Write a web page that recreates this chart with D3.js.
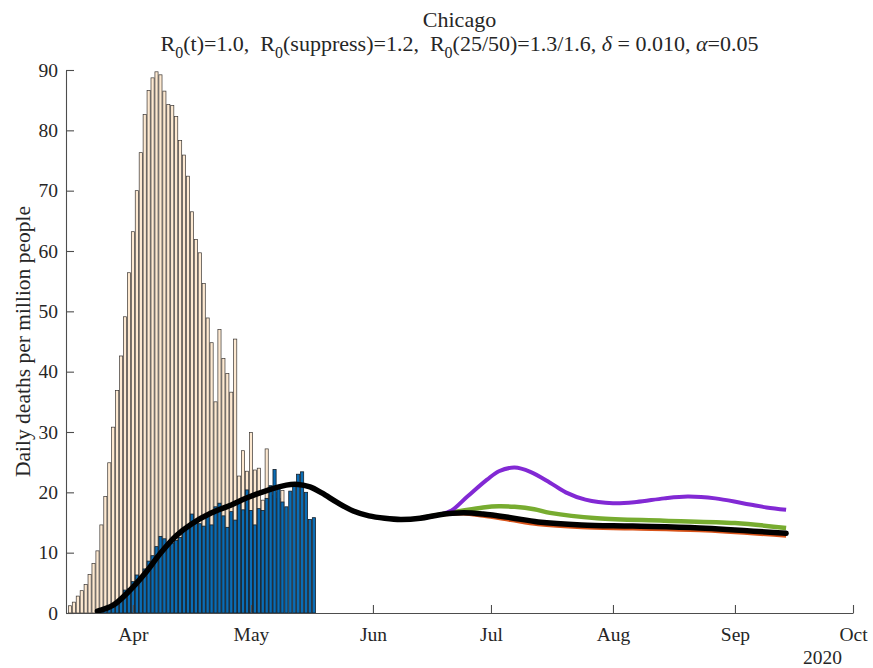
<!DOCTYPE html>
<html><head><meta charset="utf-8">
<script src="https://cdn.jsdelivr.net/npm/d3@7"></script>
<style>
body{margin:0;background:#fff}
text{font-family:"Liberation Serif","Times New Roman",serif;fill:#262626}
</style>
</head><body>
<svg id="c" width="873" height="668"></svg>
<script>
// ---------- data ----------
const xDomain = ["2020-03-15", "2020-10-01"];
const yTicks = [0, 10, 20, 30, 40, 50, 60, 70, 80, 90];
const monthTicks = ["2020-04-01","2020-05-01","2020-06-01","2020-07-01","2020-08-01","2020-09-01","2020-10-01"];
const monthLabels = ["Apr","May","Jun","Jul","Aug","Sep","Oct"];
const yearLabel = "2020";

// beige bars: one value per day starting at beigeStart
const beigeStart = "2020-03-16";
const beigeValues = [
  1.2, 1.8, 2.8, 3.7, 4.7, 6.4, 8.2, 10.3, 14.6, 19.3, 24.9, 30.8, 36.9, 42.6, 49.1, 56.4,
  63.2, 70.0, 76.3, 82.6, 86.6, 88.7, 89.7, 89.2, 86.5, 84.3, 84.1, 82.3, 78.3, 75.9, 72.4,
  66.5, 61.9, 59.7, 54.6, 48.9, 44.8, 35.0, 47.0, 42.2, 39.7, 36.6, 45.4, 22.7, 26.9, 23.5,
  29.9, 23.7, 24.0, 18.7, 27.2, 19.5, 20.0, 19.0, 20.3
];

// blue bars: one value per day starting at blueStart
const blueStart = "2020-03-23";
const blueValues = [
  0.5, 0.7, 0.9, 1.1, 1.4, 1.7, 2.3, 3.8, 4.0,
  5.2, 6.3, 5.9, 7.3, 8.6, 9.5, 11.0, 12.7, 12.3, 11.7, 11.6, 12.0, 12.5, 13.8, 14.2,
  16.4, 15.4, 14.8, 14.4, 16.1, 14.6, 17.6, 18.2, 16.1, 14.2, 16.8, 15.4, 18.2, 17.1, 20.4,
  17.0, 14.6, 17.3, 17.0, 19.0, 21.1, 23.8, 20.8, 18.4, 17.6, 20.2, 21.3, 23.0, 23.4, 20.0,
  15.5, 15.8
];

// model curves
const blackDates = ["2020-03-23","2020-03-27","2020-03-31","2020-04-04","2020-04-08","2020-04-12","2020-04-16",
  "2020-04-21","2020-04-26","2020-04-30","2020-05-05","2020-05-10","2020-05-13","2020-05-16","2020-05-19",
  "2020-05-23","2020-05-27","2020-05-31","2020-06-04","2020-06-08","2020-06-13","2020-06-18","2020-06-24",
  "2020-06-29","2020-07-06","2020-07-13","2020-07-24","2020-08-06","2020-08-23","2020-09-14"];
const blackValues = [0.3, 1.3, 3.6, 6.5, 9.9, 12.8, 14.8,
  16.6, 17.9, 19.1, 20.3, 21.2, 21.3, 20.9, 19.9,
  18.3, 16.9, 16.1, 15.7, 15.5, 15.7, 16.3, 16.6,
  16.4, 15.8, 15.1, 14.6, 14.4, 14.1, 13.2];

const orangeDates = ["2020-06-18","2020-06-24","2020-06-29","2020-07-06","2020-07-13","2020-07-24","2020-08-06","2020-08-23","2020-09-14"];
const orangeValues = [16.3, 16.5, 16.1, 15.4, 14.7, 14.2, 14.0, 13.7, 12.8];

const greenDates = ["2020-06-13","2020-06-18","2020-06-24","2020-06-29","2020-07-03","2020-07-07","2020-07-12","2020-07-16","2020-07-28","2020-08-14","2020-09-01","2020-09-14"];
const greenValues = [15.7, 16.3, 17.0, 17.5, 17.7, 17.6, 17.2, 16.6, 15.7, 15.3, 14.9, 14.1];

const purpleDates = ["2020-06-13","2020-06-18","2020-06-21","2020-06-25","2020-06-30","2020-07-03","2020-07-07","2020-07-11","2020-07-16","2020-07-20","2020-07-25","2020-08-01","2020-08-07","2020-08-14","2020-08-20","2020-08-27","2020-09-03","2020-09-09","2020-09-14"];
const purpleValues = [15.7, 16.3, 17.0, 19.3, 22.1, 23.5, 24.1, 23.4, 21.6, 20.0, 18.8, 18.2, 18.4, 19.0, 19.3, 19.0, 18.2, 17.5, 17.1];

// ---------- drawing ----------
const svg = d3.select("#c");
const parse = s => new Date(s + "T00:00:00Z");
const dayMs = 86400000;

const x = d3.scaleUtc().domain(xDomain.map(parse)).range([66, 853]);
const y = d3.scaleLinear().domain([0, 90]).range([613, 70]);

const barW = 0.8 * (x(parse("2020-03-16")) - x(parse("2020-03-15")));

function seriesFrom(start, vals) {
  const s = parse(start).getTime();
  return vals.map((v, i) => ({ d: new Date(s + i * dayMs), v }));
}
const beige = seriesFrom(beigeStart, beigeValues);
const blue = seriesFrom(blueStart, blueValues);

svg.append("g").selectAll("rect").data(beige).join("rect")
  .attr("x", d => x(d.d) - barW / 2)
  .attr("y", d => y(d.v))
  .attr("width", barW)
  .attr("height", d => y(0) - y(d.v))
  .attr("fill", "#fde9d1")
  .attr("stroke", "#3a3532")
  .attr("stroke-width", 0.7);

svg.append("g").selectAll("rect").data(blue).join("rect")
  .attr("x", d => x(d.d) - barW / 2)
  .attr("y", d => y(d.v))
  .attr("width", barW)
  .attr("height", d => y(0) - y(d.v))
  .attr("fill", "#0a6db6")
  .attr("stroke", "#15202a")
  .attr("stroke-width", 0.8);

const line = d3.line().x(d => x(d.d)).y(d => y(d.v)).curve(d3.curveCatmullRom.alpha(0.5));
function pts(dates, vals) { return dates.map((s, i) => ({ d: parse(s), v: vals[i] })); }

svg.append("path").attr("d", line(pts(orangeDates, orangeValues)))
  .attr("fill", "none").attr("stroke", "#d95319").attr("stroke-width", 4);
svg.append("path").attr("d", line(pts(greenDates, greenValues)))
  .attr("fill", "none").attr("stroke", "#77ac30").attr("stroke-width", 4.5);
svg.append("path").attr("d", line(pts(purpleDates, purpleValues)))
  .attr("fill", "none").attr("stroke", "#8229d4").attr("stroke-width", 4);
svg.append("path").attr("d", line(pts(blackDates, blackValues)))
  .attr("fill", "none").attr("stroke", "#000").attr("stroke-width", 5.5)
  .attr("stroke-linecap", "round");

// axes
const xAxis = d3.axisBottom(x)
  .tickValues(monthTicks.map(parse))
  .tickFormat((d, i) => monthLabels[i])
  .tickSizeInner(-8).tickSizeOuter(0).tickPadding(14);
const gx = svg.append("g").attr("transform", `translate(0,${y(0)})`).call(xAxis);

const yAxis = d3.axisLeft(y).tickValues(yTicks).tickSizeInner(-8).tickSizeOuter(0).tickPadding(8);
const gy = svg.append("g").attr("transform", `translate(${x(parse(xDomain[0]))},0)`).call(yAxis);

[gx, gy].forEach(g => {
  g.select(".domain").attr("stroke", "#4d4d4d").attr("stroke-width", 1.1);
  g.selectAll(".tick line").attr("stroke", "#4d4d4d").attr("stroke-width", 1.1);
  g.selectAll(".tick text").attr("font-size", 19.5).attr("fill", "#262626")
    .attr("font-family", '"Liberation Serif","Times New Roman",serif');
});

svg.append("text").attr("x", 842).attr("y", 664).attr("text-anchor", "end")
  .attr("font-size", 19.5).text(yearLabel);

// y label
svg.append("text")
  .attr("transform", `translate(30,${(y(0) + y(90)) / 2}) rotate(-90)`)
  .attr("text-anchor", "middle").attr("font-size", 21.5)
  .text("Daily deaths per million people");

// title
const cx = (x.range()[0] + x.range()[1]) / 2;
svg.append("text").attr("x", cx).attr("y", 27).attr("text-anchor", "middle")
  .attr("font-size", 22).text("Chicago");

const t2 = svg.append("text").attr("x", cx).attr("y", 51).attr("text-anchor", "middle")
  .attr("font-size", 22).style("white-space", "pre");
const parts = [
  ["R"], ["0", "sub"], ["(t)=1.0,  R"], ["0", "sub"], ["(suppress)=1.2,  R"], ["0", "sub"],
  ["(25/50)=1.3/1.6, "], ["δ", "it"], [" = 0.010, "], ["α", "it"], ["=0.05"]
];
let prevSub = false;
parts.forEach(([s, k]) => {
  const ts = t2.append("tspan").text(s);
  if (k === "sub") { ts.attr("font-size", 16).attr("dy", 7); prevSub = true; }
  else {
    if (prevSub) ts.attr("dy", -7);
    prevSub = false;
    if (k === "it") ts.attr("font-style", "italic");
  }
});
</script>
</body></html>
